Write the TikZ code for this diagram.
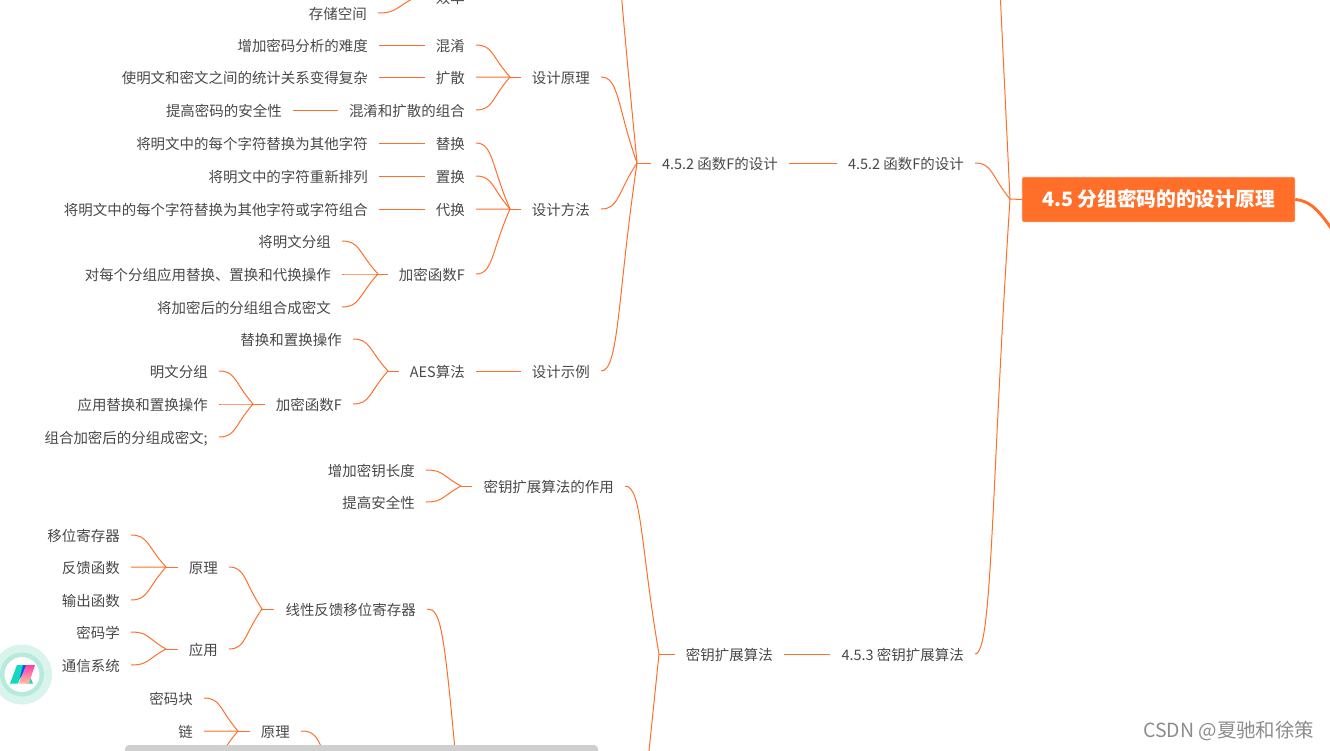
\documentclass[tikz,border=0pt]{standalone}
\usepackage{fontspec}
\setmainfont{Noto Sans CJK SC}
\usetikzlibrary{calc}
\definecolor{linkorange}{HTML}{FF6F2A}
\definecolor{labelgray}{HTML}{484848}
\definecolor{ringout}{HTML}{D9F4EC}
\definecolor{ringin}{HTML}{B6EBDB}
\definecolor{logoteal}{HTML}{12D8C0}
\definecolor{logopink}{HTML}{FF3FA8}
\definecolor{logopeach}{HTML}{FFC0A0}
\tikzset{
  txt/.style={anchor=east, inner xsep=8.25pt, inner ysep=0pt, text height=9.6pt, text depth=0pt, text=labelgray, font=\fontsize{10.85}{13}\selectfont},
  link/.style={draw=linkorange, line width=0.75pt},
  branch/.style={to path={let \p1=(\tikztostart), \p2=(\tikztotarget) in
    .. controls ({0.5*\x1+0.5*\x2},\y1) and ({0.55*\x1+0.45*\x2},{0.65*\y1+0.35*\y2}) .. (\tikztotarget)}}
}
\begin{document}
\begin{tikzpicture}[x=0.75pt, y=-0.75pt]
  \useasboundingbox (0,0) rectangle (1330,750);
  \clip (0,0) rectangle (1330,750);

  % The root
  \node[fill=linkorange, draw=linkorange!70!white, line width=0.5pt, rounded corners=1.5pt, minimum width=204.5pt, minimum height=33.5pt, inner sep=0pt, text height=11.6pt, text depth=1pt, text=white, font=\fontsize{14.8}{17}\selectfont\bfseries] (root) at (1158.5,199.5) {4.5 分组密码的的设计原理};
  \coordinate (frootR) at (1346,252);
  \coordinate (froot) at (1010,199);
  \coordinate (upper) at (1000,-10);
  \draw[link, line width=2.2pt] (root.east) .. controls (1312,201) and (1322,212) .. (frootR);
  \draw[link] (froot) -- (root.west);
  \draw[link] (upper) -- (froot);

  % Function F
  \node[txt] (secf) at (975,163) {4.5.2 函数F的设计};
  \node[txt] (func) at (789,163) {4.5.2 函数F的设计};
  \coordinate (ffunc) at (637,163);
  \coordinate (upfunc) at (621,-10);
  \draw[link] (secf.east) to[branch] (froot);
  \draw[link] (func.east) -- (secf.west);
  \draw[link] (ffunc) -- (func.west);
  \draw[link] (upfunc) .. controls (625,40) and (632,110) .. (ffunc);

  % Efficiency, only partly in the picture
  \node[txt] (eff) at (476,-3) {效率};
  \node[txt] (store) at (378,13) {存储空间};
  \coordinate (feff) at (416,-3);
  \draw[link] (store.east) to[branch] (feff);
  \draw[link] (feff) -- (eff.west);

  % Design principles
  \node[txt] (prin) at (601,77) {设计原理};
  \node[txt] (mix) at (476,45) {混淆};
  \node[txt] (spread) at (476,77) {扩散};
  \node[txt] (combo) at (476,110) {混淆和扩散的组合};
  \node[txt] (mixa) at (379,45) {增加密码分析的难度};
  \node[txt] (spreada) at (379,77) {使明文和密文之间的统计关系变得复杂};
  \node[txt] (comboa) at (293,110) {提高密码的安全性};
  \coordinate (fprin) at (510,77);
  \draw[link] (fprin) -- (prin.west);
  \foreach \a/\b in {mixa/mix, spreada/spread, comboa/combo}
    \draw[link] (\a.east) -- (\b.west);
  \foreach \a in {mix, spread, combo}
    \draw[link] (\a.east) to[branch] (fprin);
  \draw[link] (prin.east) to[branch] (ffunc);

  % Design methods
  \node[txt] (meth) at (601,209) {设计方法};
  \node[txt] (subs) at (476,143) {替换};
  \node[txt] (perm) at (476,176) {置换};
  \node[txt] (repl) at (476,209) {代换};
  \node[txt] (encf) at (476,274) {加密函数F};
  \node[txt] (subsa) at (379,143) {将明文中的每个字符替换为其他字符};
  \node[txt] (perma) at (379,176) {将明文中的字符重新排列};
  \node[txt] (repla) at (379,209) {将明文中的每个字符替换为其他字符或字符组合};
  \node[txt] (enca) at (342,241) {将明文分组};
  \node[txt] (encb) at (342,274) {对每个分组应用替换、置换和代换操作};
  \node[txt] (encc) at (342,307) {将加密后的分组组合成密文};
  \coordinate (fmeth) at (510,209);
  \coordinate (fencf) at (378,274);
  \draw[link] (fmeth) -- (meth.west);
  \draw[link] (fencf) -- (encf.west);
  \foreach \a/\b in {subsa/subs, perma/perm, repla/repl}
    \draw[link] (\a.east) -- (\b.west);
  \foreach \a in {subs, perm, repl, encf}
    \draw[link] (\a.east) to[branch] (fmeth);
  \foreach \a in {enca, encb, encc}
    \draw[link] (\a.east) to[branch] (fencf);
  \draw[link] (meth.east) to[branch] (ffunc);

  % Design example
  \node[txt] (exam) at (601,371) {设计示例};
  \node[txt] (aes) at (476,371) {AES算法};
  \node[txt] (aesa) at (353,339) {替换和置换操作};
  \node[txt] (aesb) at (353,404) {加密函数F};
  \node[txt] (aesc) at (219,371) {明文分组};
  \node[txt] (aesd) at (219,404) {应用替换和置换操作};
  \node[txt] (aese) at (219,437) {组合加密后的分组成密文;};
  \coordinate (faes) at (388,371);
  \coordinate (faesb) at (253,404);
  \draw[link] (aes.east) -- (exam.west);
  \draw[link] (faes) -- (aes.west);
  \draw[link] (faesb) -- (aesb.west);
  \foreach \a in {aesa, aesb}
    \draw[link] (\a.east) to[branch] (faes);
  \foreach \a in {aesc, aesd, aese}
    \draw[link] (\a.east) to[branch] (faesb);
  \draw[link] (exam.east) to[branch] (ffunc);

  % Key expansion
  \node[txt] (sech) at (975,654) {4.5.3 密钥扩展算法};
  \node[txt] (keyx) at (784,654) {密钥扩展算法};
  \node[txt] (role) at (625,486) {密钥扩展算法的作用};
  \node[txt] (rolea) at (426,470) {增加密钥长度};
  \node[txt] (roleb) at (426,502) {提高安全性};
  \coordinate (fkeyx) at (659,654);
  \coordinate (frole) at (461,486);
  \coordinate (lowkey) at (647,770);
  \draw[link] (sech.east) to[branch] (froot);
  \draw[link] (keyx.east) -- (sech.west);
  \draw[link] (fkeyx) -- (keyx.west);
  \draw[link] (role.east) to[branch] (fkeyx);
  \draw[link] (lowkey) -- (fkeyx);
  \draw[link] (frole) -- (role.west);
  \foreach \a in {rolea, roleb}
    \draw[link] (\a.east) to[branch] (frole);

  % LFSR
  \node[txt] (lfsr) at (427,609) {线性反馈移位寄存器};
  \node[txt] (lfsra) at (229,567) {原理};
  \node[txt] (lfsrb) at (229,649) {应用};
  \node[txt] (reg) at (131,535) {移位寄存器};
  \node[txt] (feed) at (131,567) {反馈函数};
  \node[txt] (out) at (131,600) {输出函数};
  \node[txt] (cry) at (131,632) {密码学};
  \node[txt] (comm) at (131,665) {通信系统};
  \coordinate (flow) at (459,795);
  \coordinate (flfsr) at (262,609);
  \coordinate (fa) at (166,567);
  \coordinate (fb) at (166,649);
  \draw[link] (lfsr.east) .. controls (441,609) and (444,625) .. (flow);
  \draw[link] (flfsr) -- (lfsr.west);
  \draw[link] (fa) -- (lfsra.west);
  \draw[link] (fb) -- (lfsrb.west);
  \foreach \a in {lfsra, lfsrb}
    \draw[link] (\a.east) to[branch] (flfsr);
  \foreach \a in {reg, feed, out}
    \draw[link] (\a.east) to[branch] (fa);
  \foreach \a in {cry, comm}
    \draw[link] (\a.east) to[branch] (fb);

  % Block chain part, running out of the picture
  \node[txt] (chain) at (301,731) {原理};
  \node[txt] (blk) at (204,698) {密码块};
  \node[txt] (lnk) at (204,731) {链};
  \coordinate (fchain) at (238,731);
  \coordinate (lowa) at (204,764);
  \coordinate (lowb) at (336,795);
  \draw[link] (fchain) -- (chain.west);
  \foreach \a in {blk, lnk}
    \draw[link] (\a.east) to[branch] (fchain);
  \draw[link] (lowa) to[branch] (fchain);
  \draw[link] (chain.east) .. controls (316,731) and (320,735) .. (lowb);

  % Scroll bar at the lower edge
  \fill[black!19, rounded corners=3pt] (125,745) rectangle (598,760);

  % Logo badge
  \fill[ringout] (22,674.5) circle (30);
  \fill[ringin] (22,674.5) circle (22);
  \fill[white] (22,674.5) circle (17.5);
  \fill[logoteal] (10,683.5) -- (18,683.5) -- (25,665) -- (17,665) -- cycle;
  \fill[logoteal] (26,683.5) -- (33,683.5) -- (29,674) -- cycle;
  \shade[top color=logopink, bottom color=logopeach] (24,665) -- (35,665) -- (29,683.5) -- (19,683.5) -- cycle;
  \fill[blue!65!cyan] (19.5,679) -- (23,665) -- (26,665) -- (22,675) -- cycle;

  % Watermark
  \node[anchor=west, inner sep=0pt, text=black!45, font=\fontsize{14.6}{17}\selectfont] (mark) at (1143,731) {CSDN @夏驰和徐策};
\end{tikzpicture}
\end{document}
